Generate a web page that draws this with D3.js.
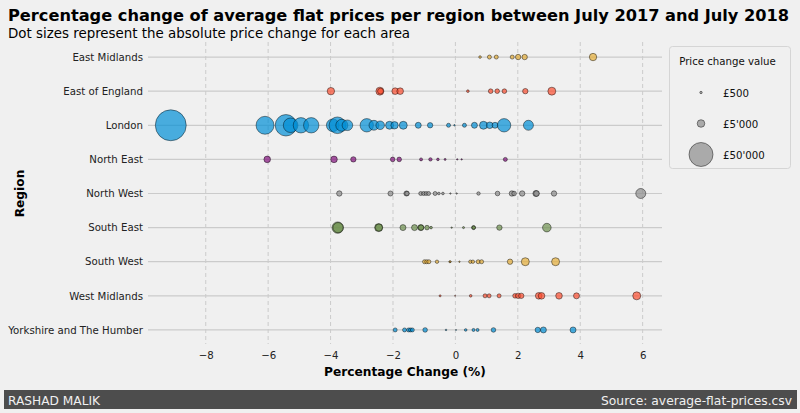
<!DOCTYPE html>
<html>
<head>
<meta charset="utf-8">
<script src="https://cdn.jsdelivr.net/npm/d3@7"></script>
<style>
  html, body { margin: 0; padding: 0; background: #f0f0f0; }
  svg { display: block; font-family: "DejaVu Sans", sans-serif; }
</style>
</head>
<body>
<svg id="chart" width="800" height="413"></svg>
<script>
// ---- Data ----
const regions = ["East Midlands", "East of England", "London", "North East", "North West",
  "South East", "South West", "West Midlands", "Yorkshire and The Humber"];

// percentage change per area, grouped by region (same order as regions)
const pctChange = [
  [0.79, 1.09, 1.31, 1.82, 2.01, 2.22, 4.41],
  [-3.99, -2.42, -2.40, -1.93, -1.77, 0.40, 1.13, 1.34, 1.57, 2.24, 3.09],
  [-9.12, -6.10, -5.43, -5.28, -4.95, -4.62, -3.93, -3.78, -3.64, -3.46, -2.84, -2.61, -2.41, -2.11,
   -1.95, -1.67, -1.19, -0.81, -0.22, -0.03, 0.29, 0.61, 0.90, 1.10, 1.27, 1.56, 2.34],
  [-6.03, -3.89, -3.27, -2.01, -1.80, -1.10, -0.80, -0.56, -0.33, 0.06, 0.20, 1.60],
  [-3.72, -2.08, -1.57, -1.55, -1.11, -1.02, -0.94, -0.86, -0.65, -0.53, -0.40, -0.16, 0.04, 0.74,
   1.35, 1.81, 1.88, 2.14, 2.58, 2.60, 3.16, 5.94],
  [-3.77, -3.76, -2.46, -2.45, -1.68, -1.31, -1.11, -1.10, -0.91, -0.78, -0.12, 0.26, 0.58, 0.59, 1.41, 2.93],
  [-0.99, -0.92, -0.85, -0.59, -0.18, -0.16, 0.13, 0.48, 0.56, 0.73, 0.84, 1.75, 2.24, 3.21],
  [-0.49, -0.01, 0.49, 0.95, 1.08, 1.40, 1.91, 2.01, 2.11, 2.67, 2.76, 3.32, 3.88, 5.81],
  [-1.93, -1.63, -1.50, -1.44, -1.38, -0.97, -0.30, 0.02, 0.33, 0.58, 0.71, 1.22, 2.64, 2.82, 3.77]
];

// absolute price change (GBP) per area, same layout as pctChange
const priceChange = [
  [600, 1400, 1400, 1400, 2500, 2500, 4750],
  [4750, 5500, 3000, 3800, 3800, 600, 1840, 1840, 1840, 2500, 5500],
  [83000, 28000, 40000, 18500, 20500, 20500, 14000, 24000, 12500, 9750, 15500, 8500, 6400, 5500,
   4750, 5500, 3100, 2500, 1400, 200, 1400, 3100, 5500, 3800, 3100, 15500, 8700],
  [3800, 3800, 2500, 1840, 1840, 780, 1000, 590, 350, 170, 170, 1390],
  [2500, 2200, 2200, 1800, 1390, 1390, 1390, 1390, 1390, 590, 590, 170, 170, 1000,
   1840, 2530, 1840, 2530, 3125, 2800, 2530, 8700],
  [11300, 9000, 5550, 4500, 3100, 3100, 3100, 2500, 1840, 590, 170, 350, 1390, 1000, 2530, 6400],
  [1390, 1390, 1390, 1000, 350, 250, 170, 1000, 1000, 1390, 1390, 2530, 5550, 5550],
  [350, 90, 590, 1390, 1390, 1390, 1840, 2530, 2530, 3800, 3800, 3800, 3125, 5550],
  [1390, 1390, 1390, 1390, 1390, 1840, 220, 90, 590, 780, 780, 1840, 2530, 3125, 3125]
];

const xTicks = [-8, -6, -4, -2, 0, 2, 4, 6];
const legendValues = [500, 5000, 50000];
const legendLabels = ["£500", "£5'000", "£50'000"];
const palette = ["#008fd5", "#fc4f30", "#e5ae38", "#6d904f", "#8b8b8b", "#810f7c"];

// ---- Layout ----
const svg = d3.select("#chart");
const W = 800, H = 413;
const plot = { left: 148, right: 662, top: 40, bottom: 347 };

svg.append("rect").attr("width", W).attr("height", H).attr("fill", "#f0f0f0");

const x = d3.scaleLinear().domain([-9.85, 6.62]).range([plot.left, plot.right]);
const y = d3.scalePoint().domain(regions).range([plot.top, plot.bottom]).padding(0.5);
const r = d3.scaleSqrt().domain([0, 50000]).range([0, 12]);

// Title
svg.append("text").attr("x", 8).attr("y", 20.5)
  .attr("font-size", 16.2).attr("font-weight", "bold").attr("fill", "#000")
  .text("Percentage change of average flat prices per region between July 2017 and July 2018");
svg.append("text").attr("x", 8).attr("y", 38)
  .attr("font-size", 13.4).attr("fill", "#000")
  .text("Dot sizes represent the absolute price change for each area");

// Grid: vertical dashed
const gx = svg.append("g");
gx.selectAll("line").data(xTicks).join("line")
  .attr("x1", d => x(d)).attr("x2", d => x(d))
  .attr("y1", plot.top + 2).attr("y2", plot.bottom - 3)
  .attr("stroke", "#cbcbcb").attr("stroke-width", 1).attr("stroke-dasharray", "4,3");

// Grid: horizontal solid
const gy = svg.append("g");
gy.selectAll("line").data(regions).join("line")
  .attr("x1", plot.left).attr("x2", plot.right)
  .attr("y1", d => y(d)).attr("y2", d => y(d))
  .attr("stroke", "#cbcbcb").attr("stroke-width", 1.2);

// X axis (labels only)
const xAxis = svg.append("g").attr("transform", `translate(0,${plot.bottom})`)
  .call(d3.axisBottom(x).tickValues(xTicks).tickSize(0).tickPadding(5).tickFormat(d3.format("d")));
xAxis.select(".domain").remove();
xAxis.selectAll("text").attr("font-size", 10.2).attr("fill", "#222").attr("font-family", "DejaVu Sans");

// Y axis
const yAxis = svg.append("g").attr("transform", `translate(${plot.left},0)`)
  .call(d3.axisLeft(y).tickSize(0).tickPadding(5));
yAxis.select(".domain").remove();
yAxis.selectAll("text").attr("font-size", 10.2).attr("fill", "#222").attr("font-family", "DejaVu Sans");

// Axis titles
svg.append("text").attr("x", 405).attr("y", 376)
  .attr("text-anchor", "middle").attr("font-size", 12.2).attr("font-weight", "bold")
  .text("Percentage Change (%)");
svg.append("text").attr("transform", `translate(24,${(plot.top + plot.bottom) / 2}) rotate(-90)`)
  .attr("text-anchor", "middle").attr("font-size", 12.2).attr("font-weight", "bold")
  .text("Region");

// Dots: drawn from last region to first, colors cycling in that order
const dotsG = svg.append("g");
for (let k = regions.length - 1; k >= 0; k--) {
  const color = palette[(regions.length - 1 - k) % palette.length];
  const pts = pctChange[k].map((p, i) => ({ p, v: priceChange[k][i], region: regions[k] }));
  dotsG.append("g").selectAll("circle").data(pts).join("circle")
    .attr("cx", d => x(d.p)).attr("cy", d => y(d.region))
    .attr("r", d => r(d.v))
    .attr("fill", color).attr("fill-opacity", 0.7)
    .attr("stroke", "#000").attr("stroke-opacity", 0.55).attr("stroke-width", 0.8);
}

// Legend
const lg = svg.append("g");
lg.append("rect").attr("x", 669.5).attr("y", 46.5).attr("width", 121).attr("height", 122)
  .attr("rx", 3).attr("fill", "#f0f0f0").attr("stroke", "#d5d5d5").attr("stroke-width", 1);
lg.append("text").attr("x", 727.5).attr("y", 64.5).attr("text-anchor", "middle")
  .attr("font-size", 10.2).attr("fill", "#111").text("Price change value");
const legY = [92.5, 123.5, 154.5];
legendValues.forEach((v, i) => {
  lg.append("circle").attr("cx", 701).attr("cy", legY[i]).attr("r", r(v))
    .attr("fill", "#8b8b8b").attr("fill-opacity", 0.7)
    .attr("stroke", "#000").attr("stroke-opacity", 0.55).attr("stroke-width", 0.8);
  lg.append("text").attr("x", 723).attr("y", legY[i] + 4).attr("font-size", 10.2).attr("fill", "#111")
    .text(legendLabels[i]);
});

// Footer
svg.append("rect").attr("x", 4).attr("y", 390).attr("width", 793).attr("height", 19).attr("fill", "#4d4d4d");
svg.append("text").attr("x", 8).attr("y", 404.5).attr("font-size", 12.2).attr("fill", "#f0f0f0")
  .text("RASHAD MALIK");
svg.append("text").attr("x", 792).attr("y", 404.5).attr("text-anchor", "end").attr("font-size", 12.3)
  .attr("fill", "#f0f0f0").text("Source: average-flat-prices.csv");
</script>
</body>
</html>
